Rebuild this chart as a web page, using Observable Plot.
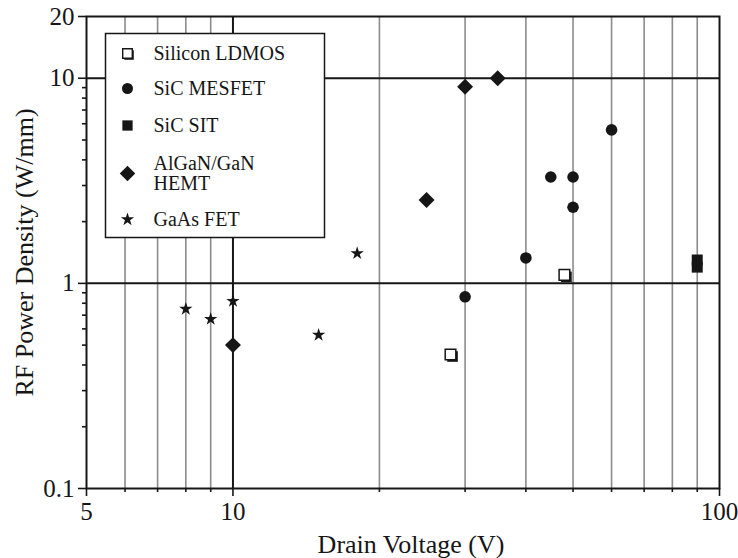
<!DOCTYPE html>
<html>
<head>
<meta charset="utf-8">
<script src="https://cdn.jsdelivr.net/npm/d3@7"></script>
<script src="https://cdn.jsdelivr.net/npm/@observablehq/plot@0.6"></script>
<style>
  html, body { margin: 0; padding: 0; background: #fff; }
  #chart { width: 738px; height: 558px; }
</style>
</head>
<body>
<div id="chart"></div>
<script>
// ---- data ----
const seriesNames = ["Silicon LDMOS", "SiC MESFET", "SiC SIT", "AlGaN/GaN\nHEMT", "GaAs FET"];

const ldmosV  = [28, 48];
const ldmosP  = [0.45, 1.1];

const mesfetV = [30, 40, 45, 50, 50, 60];
const mesfetP = [0.86, 1.33, 3.3, 3.3, 2.35, 5.6];

const sitV    = [90, 90];
const sitP    = [1.2, 1.3];

const hemtV   = [10, 25, 30, 35];
const hemtP   = [0.5, 2.55, 9.1, 10];

const gaasV   = [8, 9, 10, 15, 18];
const gaasP   = [0.75, 0.67, 0.82, 0.56, 1.4];

const xMajorTicks = [5, 10, 100];
const xMinorTicks = [6, 7, 8, 9, 20, 30, 40, 50, 60, 70, 80, 90];
const yMajorTicks = [0.1, 1, 10, 20];
const yMinorTicks = [0.2, 0.3, 0.4, 0.5, 0.6, 0.7, 0.8, 0.9, 2, 3, 4, 5, 6, 7, 8, 9];
const hGridLines  = [1, 10];
const vDarkLines  = [10];

const xLabel = "Drain Voltage (V)";
const yLabel = "RF Power Density (W/mm)";

// ---- build tables ----
const pts = (V, P) => V.map((v, i) => ({v, p: P[i]}));
const ldmos = pts(ldmosV, ldmosP);
const mesfet = pts(mesfetV, mesfetP);
const sit = pts(sitV, sitP);
const hemt = pts(hemtV, hemtP);
const gaas = pts(gaasV, gaasP);

const ink = "#161616";
const grid = "#8c8c8c";

// legend layout (relative to the frame's top-left)
const lgSymX = 41, lgTextX = 67;
const lgRows = [37, 72, 109, 157, 203];

function legendMarks() {
  const m = [];
  m.push(Plot.frame({insetLeft: 19, insetTop: 17, insetRight: 395, insetBottom: 251,
    fill: "white", stroke: ink, strokeWidth: 1.5}));
  const base = {frameAnchor: "top-left", dx: lgSymX};
  m.push(Plot.dot([0], {...base, dy: lgRows[0] + 1.5, dx: lgSymX + 1.5, symbol: "square", r: 5.4, fill: ink}));
  m.push(Plot.dot([0], {...base, dy: lgRows[0], symbol: "square", r: 5.4, fill: "white", stroke: ink, strokeWidth: 1.4}));
  m.push(Plot.dot([0], {...base, dy: lgRows[1], symbol: "circle", r: 5.5, fill: ink}));
  m.push(Plot.dot([0], {...base, dy: lgRows[2], symbol: "square", r: 5.8, fill: ink}));
  m.push(Plot.dot([0], {...base, dy: lgRows[3], symbol: "diamond2", r: 7, fill: ink}));
  m.push(Plot.dot([0], {...base, dy: lgRows[4], symbol: "star", r: 4.2, fill: ink}));
  seriesNames.forEach((name, i) => {
    m.push(Plot.text([name], {frameAnchor: "top-left", dx: lgTextX, dy: lgRows[i],
      text: d => d, textAnchor: "start", lineAnchor: "middle", fontSize: 20, lineHeight: 1, fill: ink}));
  });
  return m;
}

const chart = Plot.plot({
  width: 738,
  height: 558,
  marginLeft: 86,
  marginRight: 19,
  marginTop: 16,
  marginBottom: 70,
  style: {fontFamily: "'Liberation Serif', 'Times New Roman', serif", background: "white", color: ink},
  x: {type: "log", domain: [5, 100]},
  y: {type: "log", domain: [0.1, 20]},
  marks: [
    Plot.ruleX(xMinorTicks, {stroke: grid, strokeWidth: 1.6}),
    Plot.ruleX(vDarkLines, {stroke: ink, strokeWidth: 2}),
    Plot.ruleY(hGridLines, {stroke: ink, strokeWidth: 2}),
    Plot.axisX(xMajorTicks, {tickSize: 8, tickPadding: 6, fontSize: 25, tickFormat: d => String(d), label: null, stroke: ink, strokeWidth: 1.6, fill: ink}),
    Plot.axisX(xMinorTicks, {tickSize: 4, tickFormat: () => "", label: null, stroke: ink, strokeWidth: 1.6}),
    Plot.axisY(yMajorTicks, {tickSize: 8, tickPadding: 4, fontSize: 25, tickFormat: d => String(d), label: null, stroke: ink, strokeWidth: 1.6, fill: ink}),
    Plot.axisY(yMinorTicks, {tickSize: 4, tickFormat: () => "", label: null, stroke: ink, strokeWidth: 1.6}),
    Plot.frame({stroke: ink, strokeWidth: 2}),
    ...legendMarks(),
    Plot.dot(ldmos, {x: "v", y: "p", symbol: "square", r: 6, fill: ink, dx: 2, dy: 2}),
    Plot.dot(ldmos, {x: "v", y: "p", symbol: "square", r: 6, fill: "white", stroke: ink, strokeWidth: 1.5}),
    Plot.dot(mesfet, {x: "v", y: "p", symbol: "circle", r: 5.8, fill: ink}),
    Plot.dot(sit, {x: "v", y: "p", symbol: "square", r: 6.2, fill: ink}),
    Plot.dot(hemt, {x: "v", y: "p", symbol: "diamond2", r: 7.2, fill: ink}),
    Plot.dot(gaas, {x: "v", y: "p", symbol: "star", r: 4.2, fill: ink}),
    Plot.text([xLabel], {frameAnchor: "bottom", dy: 56, dx: 8, text: d => d, textAnchor: "middle", lineAnchor: "middle", fontSize: 26, fill: ink}),
    Plot.text([yLabel], {frameAnchor: "left", dx: -62, rotate: -90, text: d => d, textAnchor: "middle", lineAnchor: "middle", fontSize: 26, fill: ink})
  ]
});

document.getElementById("chart").appendChild(chart);
</script>
</body>
</html>
